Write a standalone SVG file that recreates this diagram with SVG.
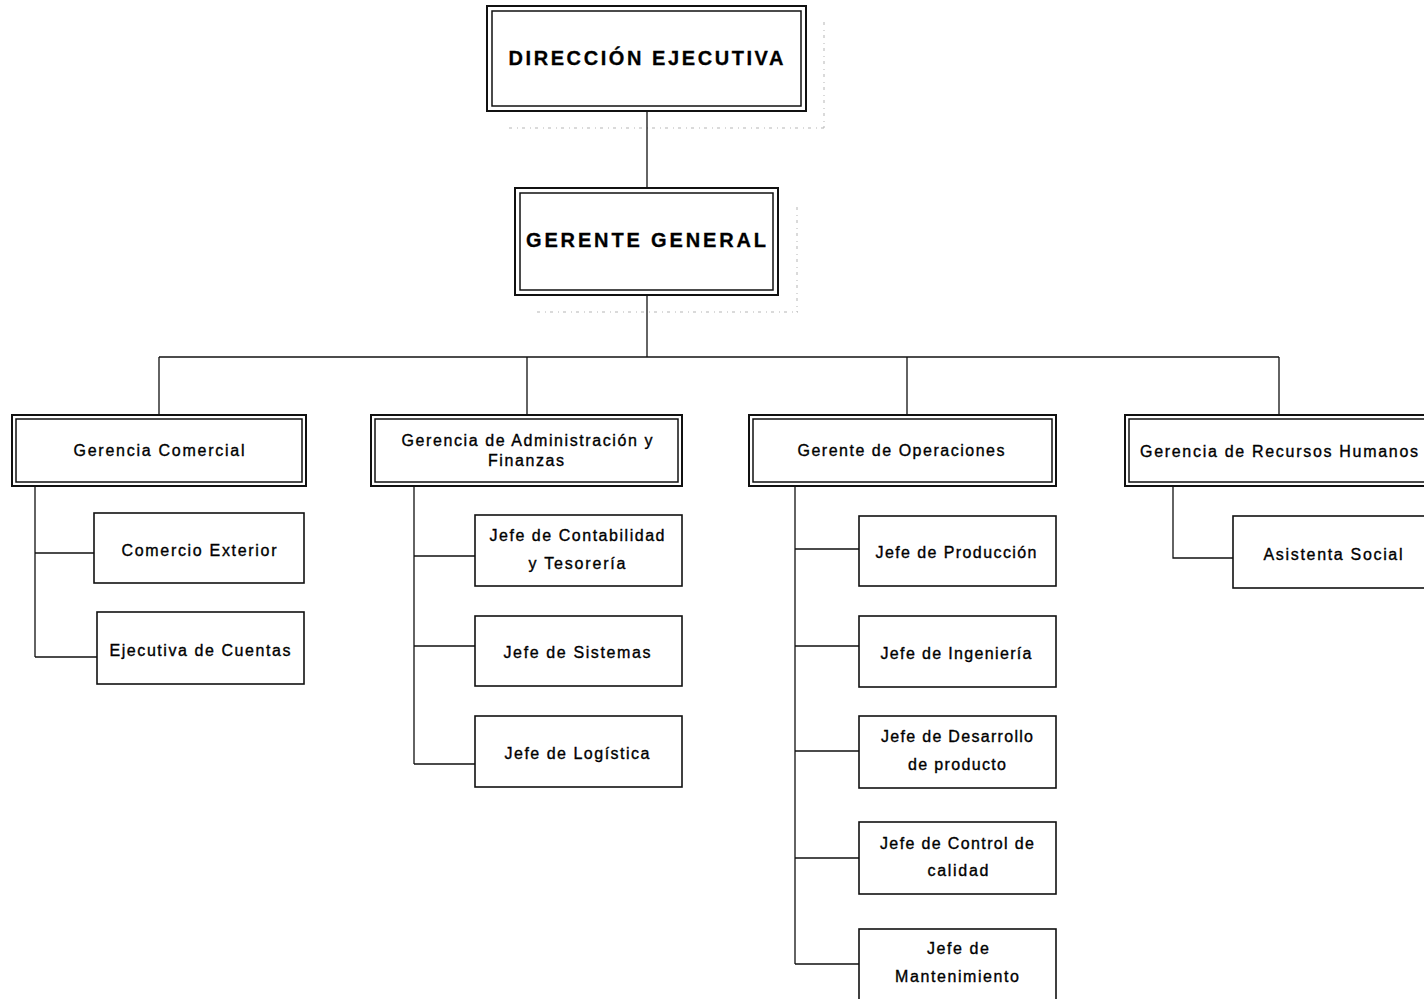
<svg xmlns="http://www.w3.org/2000/svg" width="1424" height="999" viewBox="0 0 1424 999">
  <style>
    .bg { fill: #ffffff; }
    .outer { fill: #ffffff; stroke: #111; stroke-width: 2; }
    .inner { fill: none; stroke: #111; stroke-width: 1.5; }
    .box { fill: #ffffff; stroke: #111; stroke-width: 1.6; }
    .link { fill: none; stroke: #111; stroke-width: 1.3; }
    .shadow { fill: none; stroke: #b5b5b5; stroke-width: 1; stroke-dasharray: 3 5 1 4; }
    .title { font-family: "Liberation Sans", Arial, sans-serif; font-size: 20px; font-weight: bold; fill: #000; stroke: #000; stroke-width: 0.3; text-anchor: middle; }
    .label { font-family: "Liberation Sans", Arial, sans-serif; font-size: 16px; fill: #000; stroke: #000; stroke-width: 0.35; text-anchor: middle; }
  </style>

  <rect class="bg" x="0" y="0" width="1424" height="999"/>

  <!-- faint drop shadows behind the two top boxes -->
  <g id="shadows">
    <path class="shadow" d="M509 128 H826 M824 22 V128"/>
    <path class="shadow" d="M537 312 H798 M797 207 V312"/>
  </g>

  <!-- connectors -->
  <g id="connectors">
    <path class="link" d="M647 111 V188"/>
    <path class="link" d="M647 295 V357"/>
    <path class="link" d="M159 357 H1279"/>
    <path class="link" d="M159 357 V415 M527 357 V415 M907 357 V415 M1279 357 V415"/>
    <!-- Gerencia Comercial -->
    <path class="link" d="M35 486 V657 M35 553 H94 M35 657 H97"/>
    <!-- Administración y Finanzas -->
    <path class="link" d="M414 486 V764 M414 556 H475 M414 646 H475 M414 764 H475"/>
    <!-- Operaciones -->
    <path class="link" d="M795 486 V964 M795 549 H859 M795 646 H859 M795 751 H859 M795 858 H859 M795 964 H859"/>
    <!-- Recursos Humanos -->
    <path class="link" d="M1173 486 V558 H1233"/>
  </g>

  <g id="direccion-ejecutiva">
    <rect class="outer" x="487" y="6" width="319" height="105"/>
    <rect class="inner" x="492" y="11" width="309" height="95"/>
    <text class="title" x="646" y="65" textLength="275" lengthAdjust="spacing">DIRECCIÓN EJECUTIVA</text>
  </g>

  <g id="gerente-general">
    <rect class="outer" x="515" y="188" width="263" height="107"/>
    <rect class="inner" x="520" y="193" width="253" height="97"/>
    <text class="title" x="646" y="247" textLength="240" lengthAdjust="spacing">GERENTE GENERAL</text>
  </g>

  <g id="gerencia-comercial">
    <rect class="outer" x="12" y="415" width="294" height="71"/>
    <rect class="inner" x="16" y="419" width="286" height="63"/>
    <text class="label" x="159" y="456" textLength="171" lengthAdjust="spacing">Gerencia Comercial</text>
  </g>

  <g id="gerencia-administracion">
    <rect class="outer" x="371" y="415" width="311" height="71"/>
    <rect class="inner" x="375" y="419" width="303" height="63"/>
    <text class="label" x="527" y="446" textLength="251" lengthAdjust="spacing">Gerencia de Administración y</text>
    <text class="label" x="526" y="466" textLength="76" lengthAdjust="spacing">Finanzas</text>
  </g>

  <g id="gerente-operaciones">
    <rect class="outer" x="749" y="415" width="307" height="71"/>
    <rect class="inner" x="753" y="419" width="299" height="63"/>
    <text class="label" x="901" y="456" textLength="207" lengthAdjust="spacing">Gerente de Operaciones</text>
  </g>

  <g id="gerencia-rrhh">
    <rect class="outer" x="1125" y="415" width="310" height="71"/>
    <rect class="inner" x="1129" y="419" width="302" height="63"/>
    <text class="label" x="1279" y="457" textLength="278" lengthAdjust="spacing">Gerencia de Recursos Humanos</text>
  </g>

  <g id="comercio-exterior">
    <rect class="box" x="94" y="513" width="210" height="70"/>
    <text class="label" x="199" y="556" textLength="155" lengthAdjust="spacing">Comercio Exterior</text>
  </g>

  <g id="ejecutiva-cuentas">
    <rect class="box" x="97" y="612" width="207" height="72"/>
    <text class="label" x="200" y="656" textLength="181" lengthAdjust="spacing">Ejecutiva de Cuentas</text>
  </g>

  <g id="jefe-contabilidad">
    <rect class="box" x="475" y="515" width="207" height="71"/>
    <text class="label" x="577" y="541" textLength="175" lengthAdjust="spacing">Jefe de Contabilidad</text>
    <text class="label" x="577" y="569" textLength="97" lengthAdjust="spacing">y Tesorería</text>
  </g>

  <g id="jefe-sistemas">
    <rect class="box" x="475" y="616" width="207" height="70"/>
    <text class="label" x="577" y="658" textLength="147" lengthAdjust="spacing">Jefe de Sistemas</text>
  </g>

  <g id="jefe-logistica">
    <rect class="box" x="475" y="716" width="207" height="71"/>
    <text class="label" x="577" y="759" textLength="145" lengthAdjust="spacing">Jefe de Logística</text>
  </g>

  <g id="jefe-produccion">
    <rect class="box" x="859" y="516" width="197" height="70"/>
    <text class="label" x="956" y="558" textLength="161" lengthAdjust="spacing">Jefe de Producción</text>
  </g>

  <g id="jefe-ingenieria">
    <rect class="box" x="859" y="616" width="197" height="71"/>
    <text class="label" x="956" y="659" textLength="151" lengthAdjust="spacing">Jefe de Ingeniería</text>
  </g>

  <g id="jefe-desarrollo">
    <rect class="box" x="859" y="716" width="197" height="72"/>
    <text class="label" x="957" y="742" textLength="152" lengthAdjust="spacing">Jefe de Desarrollo</text>
    <text class="label" x="957" y="770" textLength="98" lengthAdjust="spacing">de producto</text>
  </g>

  <g id="jefe-calidad">
    <rect class="box" x="859" y="822" width="197" height="72"/>
    <text class="label" x="957" y="849" textLength="154" lengthAdjust="spacing">Jefe de Control de</text>
    <text class="label" x="958" y="876" textLength="61" lengthAdjust="spacing">calidad</text>
  </g>

  <g id="jefe-mantenimiento">
    <rect class="box" x="859" y="929" width="197" height="80"/>
    <text class="label" x="958" y="954" textLength="62" lengthAdjust="spacing">Jefe de</text>
    <text class="label" x="957" y="982" textLength="124" lengthAdjust="spacing">Mantenimiento</text>
  </g>

  <g id="asistenta-social">
    <rect class="box" x="1233" y="516" width="200" height="72"/>
    <text class="label" x="1333" y="560" textLength="139" lengthAdjust="spacing">Asistenta Social</text>
  </g>
</svg>
